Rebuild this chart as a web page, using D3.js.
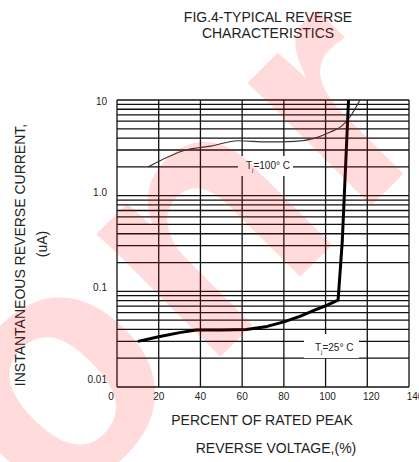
<!DOCTYPE html>
<html lang="en">
<head>
    <meta charset="UTF-8">
    <title>Fig.4 Typical Reverse Characteristics</title>
    <style>
        body { margin: 0; background: #fff; }
        svg { display: block; font-family: "Liberation Sans", Arial, sans-serif; }
    </style>
</head>
<body>
<div id="chart"></div>

<script src="https://d3js.org/d3.v7.min.js"></script>
<script>
  // axis ticks
  const xTicks = [0, 20, 40, 60, 80, 100, 120, 140];
  const yTicks = [0.01, 0.1, 1, 10];
  const yTickLabels = ["0.01", "0.1", "1.0", "10"];

  // Tj = 100 C curve (thin)
  const pct100 = [15, 33, 45, 58, 72, 85, 95, 102, 108, 112, 116.5];
  const cur100 = [2.0, 3.0, 3.3, 3.75, 3.65, 3.7, 4.0, 4.6, 5.4, 6.8, 10];

  // Tj = 25 C curve (thick)
  const pct25 = [10, 20, 30, 38, 50, 62, 72, 80, 88, 95, 101, 106, 108, 111];
  const cur25 = [0.030, 0.0335, 0.037, 0.0395, 0.0395, 0.040, 0.043, 0.048, 0.055, 0.064, 0.072, 0.081, 0.33, 10];

  const width = 419, height = 462;
  const plot = {left: 117, right: 409, top: 100, bottom: 387};

  const svg = d3.select("#chart").append("svg")
    .attr("width", width)
    .attr("height", height);

  const x = d3.scaleLinear().domain([0, 140]).range([plot.left, plot.right]);
  const y = d3.scaleLog().domain([0.01, 10]).range([plot.bottom, plot.top]);

  // grid
  const grid = svg.append("g").attr("stroke", "#111").attr("stroke-width", 1.3);

  const minor = [];
  [0.01, 0.1, 1].forEach(d => { for (let k = 1; k <= 9; k++) minor.push(d * k); });
  minor.push(10);

  grid.selectAll(".h").data(minor).enter().append("line")
    .attr("x1", plot.left).attr("x2", plot.right)
    .attr("y1", d => y(d)).attr("y2", d => y(d));

  grid.selectAll(".v").data(xTicks).enter().append("line")
    .attr("y1", plot.top).attr("y2", plot.bottom)
    .attr("x1", d => x(d)).attr("x2", d => x(d));

  // white gaps under the curve labels
  svg.append("rect").attr("x", 238).attr("y", 156).attr("width", 55).attr("height", 20).attr("fill", "#fff");
  svg.append("rect").attr("x", 304).attr("y", 334).attr("width", 55).attr("height", 24).attr("fill", "#fff");

  // curves
  const line = d3.line().x(d => x(d[0])).y(d => y(d[1]));

  svg.append("path")
    .datum(d3.zip(pct100, cur100))
    .attr("fill", "none").attr("stroke", "#333").attr("stroke-width", 1.2)
    .attr("d", line.curve(d3.curveMonotoneX));

  svg.append("path")
    .datum(d3.zip(pct25, cur25))
    .attr("fill", "none").attr("stroke", "#000").attr("stroke-width", 3)
    .attr("stroke-linejoin", "round")
    .attr("d", line.curve(d3.curveLinear));

  // curve labels
  function tjLabel(px, py, temp) {
    const t = svg.append("text").attr("x", px).attr("y", py)
      .attr("font-size", 10).attr("fill", "#222");
    t.append("tspan").text("T");
    t.append("tspan").attr("font-size", 6).attr("dy", 3).text("j");
    t.append("tspan").attr("dy", -3).text("=" + temp + "\u00B0 C");
  }
  tjLabel(246, 169, "100");
  tjLabel(315, 351, "25");

  // tick labels
  const tickFont = 10;
  svg.append("g").selectAll("text").data(yTicks).enter().append("text")
    .attr("x", 107)
    .attr("y", d => d === 10 ? y(d) + 5 : d === 0.01 ? y(d) - 4 : y(d))
    .attr("text-anchor", "end")
    .attr("font-size", tickFont).attr("fill", "#222")
    .text((d, i) => yTickLabels[i]);

  svg.append("g").selectAll("text").data(xTicks).enter().append("text")
    .attr("x", d => x(d) + (d === 0 ? -6 : Math.max(0, (d - 80) / 10)))
    .attr("y", 400)
    .attr("text-anchor", "middle")
    .attr("font-size", tickFont).attr("fill", "#222")
    .text(d => d);

  // titles
  const title = svg.append("text").attr("text-anchor", "middle")
    .attr("font-size", 14).attr("fill", "#222");
  title.append("tspan").attr("x", 268).attr("y", 22).text("FIG.4-TYPICAL REVERSE");
  title.append("tspan").attr("x", 268).attr("y", 38).text("CHARACTERISTICS");

  svg.append("text").attr("x", 262).attr("y", 425).attr("text-anchor", "middle")
    .attr("font-size", 14).attr("fill", "#222").text("PERCENT OF RATED PEAK");
  svg.append("text").attr("x", 276).attr("y", 453).attr("text-anchor", "middle")
    .attr("font-size", 14).attr("fill", "#222").text("REVERSE VOLTAGE,(%)");

  svg.append("text").attr("transform", "translate(25,255) rotate(-90)")
    .attr("text-anchor", "middle").attr("font-size", 14).attr("fill", "#222")
    .text("INSTANTANEOUS REVERSE CURRENT,");
  svg.append("text").attr("transform", "translate(47,244) rotate(-90)")
    .attr("text-anchor", "middle").attr("font-size", 14).attr("fill", "#222")
    .text("(uA)");

  // pink watermark
  svg.append("text").attr("transform", "translate(53,524) rotate(-45)")
    .attr("font-size", 330).attr("font-weight", "bold")
    .attr("letter-spacing", 12)
    .attr("fill", "#ff0000").attr("fill-opacity", 0.14)
    .text("onr");
</script>
</body>
</html>
